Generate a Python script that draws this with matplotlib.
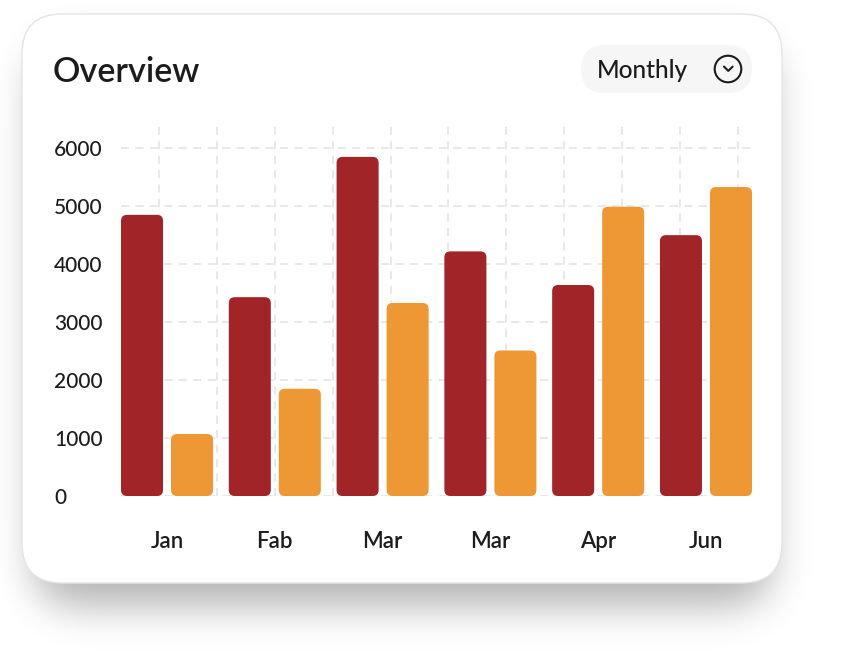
import numpy as np
import matplotlib
matplotlib.use('Agg')
import matplotlib.pyplot as plt
from matplotlib.patches import FancyBboxPatch, Circle

plt.rcParams['font.family'] = ['Lato', 'DejaVu Sans']

# data
months = ['Jan', 'Fab', 'Mar', 'Mar', 'Apr', 'Jun']
series_a = [4850, 3430, 5850, 4220, 3640, 4500]
series_b = [1070, 1850, 3330, 2510, 4990, 5330]
yticks = [0, 1000, 2000, 3000, 4000, 5000, 6000]

RED = '#A12528'
ORANGE = '#EE9835'
TXT = '#1C1C1C'
W, H = 843, 651

fig = plt.figure(figsize=(W / 100, H / 100), dpi=100)
fig.patch.set_facecolor('white')

# background layer in pixel coords
bg = fig.add_axes([0, 0, 1, 1], zorder=0)
bg.set_xlim(0, W)
bg.set_ylim(H, 0)
bg.axis('off')


def rrect_mask(x0, y0, x1, y1, r):
    yy, xx = np.mgrid[0:H, 0:W] + 0.5
    dx = np.maximum(np.maximum(x0 + r - xx, xx - (x1 - r)), 0)
    dy = np.maximum(np.maximum(y0 + r - yy, yy - (y1 - r)), 0)
    inside = (xx >= x0) & (xx <= x1) & (yy >= y0) & (yy <= y1)
    return (inside & (dx ** 2 + dy ** 2 <= r ** 2)).astype(float)


def blur(img, sigma):
    k = np.arange(-3 * sigma, 3 * sigma + 1)
    g = np.exp(-k ** 2 / (2 * sigma ** 2))
    g /= g.sum()
    img = np.apply_along_axis(lambda v: np.convolve(v, g, mode='same'), 0, img)
    img = np.apply_along_axis(lambda v: np.convolve(v, g, mode='same'), 1, img)
    return img


# soft drop shadow
sh = blur(rrect_mask(34, 44, 772, 606, 40), 20)
rgba = np.zeros((H, W, 4))
rgba[..., 3] = sh * 0.30
bg.imshow(rgba, extent=(0, W, H, 0), interpolation='bilinear', zorder=0)

# card
bg.add_patch(FancyBboxPatch((22, 14), 760, 569,
                            boxstyle='round,pad=0,rounding_size=40',
                            fc='white', ec='#E4E4E4', lw=1.0, zorder=1))

bg.text(52.5, 82, 'Overview', fontsize=24.6, color=TXT, fontweight='semibold',
        va='baseline', ha='left', zorder=2)

# dropdown pill
bg.add_patch(FancyBboxPatch((581, 45), 171, 48,
                            boxstyle='round,pad=0,rounding_size=24',
                            fc='#F6F6F6', ec='none', zorder=1))
bg.text(597, 77.5, 'Monthly', fontsize=17.6, color=TXT, va='baseline',
        ha='left', fontweight='medium', zorder=2)
bg.add_patch(Circle((728, 69), 13.3, fill=False, ec=TXT, lw=1.5, zorder=2))
bg.plot([724, 728.3, 732.6], [66.6, 70.9, 66.6], color=TXT, lw=1.5,
        solid_capstyle='round', solid_joinstyle='round', zorder=2)

# main chart
px_l, px_r, px_t, px_b = 121, 752, 125, 496
ax = fig.add_axes([px_l / W, (H - px_b) / H, (px_r - px_l) / W, (px_b - px_t) / H],
                  zorder=2)
ax.set_facecolor('none')
xmin, xmax = -0.427, 5.427
ymax = 6400
ax.set_xlim(xmin, xmax)
ax.set_ylim(0, ymax)
for s in ax.spines.values():
    s.set_visible(False)

grid_kw = dict(color='#E6E6E6', lw=1.3, linestyles=(0, (4.5, 3.5)), zorder=1)
ax.hlines(yticks, xmin, xmax, **grid_kw)
vx = -0.074 + 0.537 * np.arange(11)
ax.vlines(vx, 0, ymax, **grid_kw)

x = np.arange(len(months))
off, bw = 0.232, 0.39
ux = (xmax - xmin) / (px_r - px_l)
uy = ymax / (px_b - px_t)
rad = 6 * ux
for vals, col, sign in [(series_a, RED, -1), (series_b, ORANGE, 1)]:
    bars = ax.bar(x + sign * off, vals, width=bw, color=col)
    for b in bars:
        ax.add_patch(FancyBboxPatch((b.get_x(), 0), b.get_width(), b.get_height(),
                                    boxstyle=f'round,pad=0,rounding_size={rad}',
                                    mutation_aspect=uy / ux, fc=col, ec='none',
                                    zorder=3))
        b.remove()

ax.set_xticks(x)
ax.set_xticklabels(months, fontweight='semibold')
ax.set_yticks(yticks)
ax.set_yticklabels([str(v) for v in yticks], ha='left', fontweight='medium')
ax.tick_params(axis='y', length=0, pad=48.2, labelsize=15, labelcolor=TXT)
ax.tick_params(axis='x', length=0, pad=25.5, labelsize=16, labelcolor=TXT)

fig.savefig('out.png', dpi=100, facecolor='white')
